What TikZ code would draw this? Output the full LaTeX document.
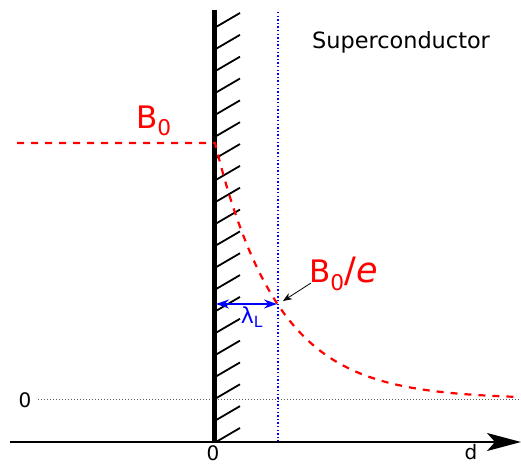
\documentclass[tikz,border=0pt]{standalone}
\usepackage{fontspec}
\setmainfont{DejaVu Sans}
\usetikzlibrary{arrows.meta}
\begin{document}
\begin{tikzpicture}[x=1pt,y=-1pt,
  redlbl/.style={text=red,inner sep=0pt,font=\fontsize{31}{31}\selectfont},
  plainlbl/.style={inner sep=0pt,font=\fontsize{20}{20}\selectfont},
  hatchline/.style={line width=1.8pt},
  redcurve/.style={red,line width=2.2pt,dash pattern=on 7pt off 7pt}]
\useasboundingbox (0,0) rectangle (521,465);
% reference lines
\coordinate (zl) at (38,399);
\coordinate (zr) at (521,399);
\draw[gray!70!black,line width=0.9pt,dash pattern=on 1pt off 2pt] (zl) -- (zr);
\coordinate (lt) at (278,12);
\coordinate (lb) at (278,442);
\draw[blue,line width=1.4pt,dash pattern=on 1.4pt off 2.2pt] (lt) -- (lb);
% axis
\coordinate (ax0) at (10,442);
\coordinate (ax1) at (521,442);
\draw[line width=2pt,-{Stealth[length=34pt,width=18pt,inset=8pt]}] (ax0) -- (ax1);
% wall
\coordinate (wt) at (214,10);
\coordinate (wb) at (214,442);
\draw[line width=5pt] (wt) -- (wb);
\foreach \k in {0,...,19}{
  \draw[hatchline] (216,{27+\k*21.84}) -- ++(24,-14);
}
% field
\draw[redcurve] (17,143) -- (215,143) -- plot[domain=215:518,samples=80] (\x,{399-256*exp(-(\x-215)/63)});
% labels
\node[redlbl] (b0) at (154,121) {B\textsubscript{0}};
\node[redlbl,anchor=west] (b0e) at (309,274) {B\textsubscript{0}{\fontsize{35}{35}\selectfont/\textit{e}}};
\node[plainlbl,font=\fontsize{22.4}{22.4}\selectfont] (sc) at (401,42) {Superconductor};
\node[plainlbl] (zero) at (25,400) {0};
\node[plainlbl] (zerox) at (213,453) {0};
\node[plainlbl] (dl) at (471,452) {d};
% lambda
\coordinate (la) at (216,304);
\coordinate (lbp) at (277,304);
\draw[blue,line width=1.5pt,{Stealth[length=13pt,width=9pt]}-{Stealth[length=13pt,width=9pt]}] (la) -- (lbp);
\node[text=blue,inner sep=0pt,font=\fontsize{22}{22}\selectfont] (lam) at (252,317) {λ\textsubscript{L}};
\coordinate (pt) at (283,301);
\draw[line width=0.8pt,-{Stealth[length=9pt,width=7pt]}] (311,283) -- (pt);
\end{tikzpicture}
\end{document}
